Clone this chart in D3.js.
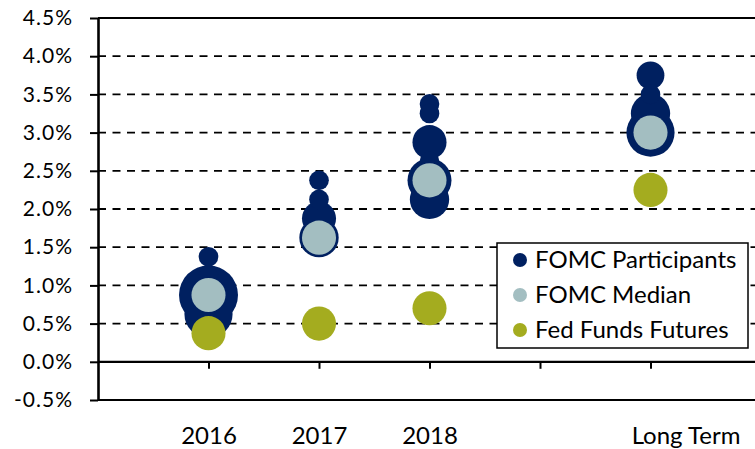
<!DOCTYPE html>
<html>
<head>
<meta charset="utf-8">
<script src="https://cdn.jsdelivr.net/npm/d3@7"></script>
<style>
  body { margin: 0; background: #fff; }
  svg { display: block; }
</style>
</head>
<body>
<div class="chart"></div>
<script>
// categories along the x axis (4th slot is left empty)
const categories = ["2016", "2017", "2018", "", "Long Term"];
const yTicks = [-0.5, 0, 0.5, 1, 1.5, 2, 2.5, 3, 3.5, 4, 4.5];

// FOMC participants: [category, rate %, number of participants]
const participants = [
    ["2016", 1.375, 1], ["2016", 1.125, 1], ["2016", 0.875, 9], ["2016", 0.625, 6],
    ["2017", 2.375, 1], ["2017", 2.125, 1], ["2017", 1.875, 3], ["2017", 1.625, 4],
    ["2018", 3.375, 1], ["2018", 3.25, 1], ["2018", 2.875, 3], ["2018", 2.625, 1],
    ["2018", 2.375, 5], ["2018", 2.125, 4],
    ["Long Term", 3.75, 2], ["Long Term", 3.5, 1], ["Long Term", 3.25, 4], ["Long Term", 3.0, 6]
];
const medianCats = ["2016", "2017", "2018", "Long Term"];
const medianRates = [0.875, 1.625, 2.375, 3.0];
const futuresCats = ["2016", "2017", "2018", "Long Term"];
const futuresRates = [0.375, 0.50, 0.70, 2.25];
const markerSize = 3;   // bubble size used for median and futures

const seriesNames = ["FOMC Participants", "FOMC Median", "Fed Funds Futures"];
const colors = ["#002060", "#A3BEC1", "#A4AC1F"];

const margin = ({top: 18, right: 0, bottom: 49, left: 98});
const W = 755, H = 449;
const height = H - margin.top - margin.bottom;

const xScale = d3.scaleLinear()
    .domain([0, categories.length + 1])
    .range([margin.left, margin.left + 663]);
const catX = c => xScale(categories.indexOf(c) + 1);

const yScale = d3.scaleLinear()
    .domain([-0.5, 4.5])
    .range([margin.top + height, margin.top]);

const rScale = d3.scaleSqrt()
    .domain([0, 9])
    .range([0, 29.5]);

var svg = d3.select('.chart')
    .append('svg')
    .attr("width", W)
    .attr("height", H);

// gridlines
svg.append("g")
    .selectAll("line")
    .data(yTicks)
    .enter()
    .append("line")
    .attr("x1", margin.left)
    .attr("x2", W)
    .attr("y1", d => yScale(d))
    .attr("y2", d => yScale(d))
    .attr("stroke", "#000")
    .attr("stroke-width", d => (d == 0 || d == -0.5 || d == 4.5) ? 2.2 : 1.8)
    .attr("stroke-dasharray", d => (d == 0 || d == -0.5 || d == 4.5) ? null : "8,6.5");

// y axis
const yAxis = d3.axisLeft(yScale)
    .tickValues(yTicks)
    .tickSize(8)
    .tickSizeOuter(0)
    .tickPadding(17)
    .tickFormat(d => d.toFixed(1) + "%");

var yAxisDisplay = svg.append("g")
    .attr("class", "axis y-axis")
    .attr("transform", `translate(${margin.left},0)`)
    .call(yAxis);
yAxisDisplay.select(".domain").attr("stroke-width", 2.6);
yAxisDisplay.selectAll(".tick line").attr("stroke-width", 2);
yAxisDisplay.selectAll("text")
    .attr("font-family", "Lato, 'Open Sans', sans-serif")
    .attr("font-size", 21)
    .attr("letter-spacing", 1)
    .attr("fill", "#000");

// x axis sits on the zero line
const xAxis = d3.axisBottom(xScale)
    .tickValues(d3.range(1, categories.length + 1))
    .tickSize(7)
    .tickSizeOuter(0)
    .tickPadding(58)
    .tickFormat(d => categories[d - 1]);

var xAxisDisplay = svg.append("g")
    .attr("class", "axis x-axis")
    .attr("transform", `translate(0,${yScale(0)})`)
    .call(xAxis);
xAxisDisplay.select(".domain").remove();
xAxisDisplay.selectAll(".tick line").attr("stroke-width", 2);
xAxisDisplay.selectAll("text")
    .attr("font-family", "Lato, 'Open Sans', sans-serif")
    .attr("font-size", 24)
    .attr("dx", d => d == 5 ? 35 : 0)
    .attr("fill", "#000");

// participants bubbles, biggest drawn first
var bubbles = svg.append("g")
    .selectAll("circle")
    .data(participants.slice().sort((a, b) => b[2] - a[2]))
    .enter()
    .append("circle")
    .attr("cx", d => catX(d[0]))
    .attr("cy", d => yScale(d[1]))
    .attr("r", d => rScale(d[2]))
    .attr("fill", colors[0]);

var medians = svg.append("g")
    .selectAll("circle")
    .data(medianRates)
    .enter()
    .append("circle")
    .attr("cx", (d, i) => catX(medianCats[i]))
    .attr("cy", d => yScale(d))
    .attr("r", rScale(markerSize))
    .attr("fill", colors[1]);

var futures = svg.append("g")
    .selectAll("circle")
    .data(futuresRates)
    .enter()
    .append("circle")
    .attr("cx", (d, i) => catX(futuresCats[i]))
    .attr("cy", d => yScale(d))
    .attr("r", rScale(markerSize))
    .attr("fill", colors[2]);

// legend
var legend = svg.append("g")
    .attr("transform", "translate(497,243)");
legend.append("rect")
    .attr("width", 251)
    .attr("height", 105)
    .attr("fill", "#fff")
    .attr("stroke", "#000")
    .attr("stroke-width", 1.5);
legend.selectAll("circle")
    .data(seriesNames)
    .enter()
    .append("circle")
    .attr("cx", 23)
    .attr("cy", (d, i) => 17 + 35 * i)
    .attr("r", 7)
    .attr("fill", (d, i) => colors[i]);
legend.selectAll("text")
    .data(seriesNames)
    .enter()
    .append("text")
    .text(d => d)
    .attr("x", 38)
    .attr("y", (d, i) => 17 + 35 * i)
    .attr("dy", "0.35em")
    .attr("font-family", "Lato, 'Open Sans', sans-serif")
    .attr("font-size", 24)
    .attr("fill", "#000");
</script>
</body>
</html>
